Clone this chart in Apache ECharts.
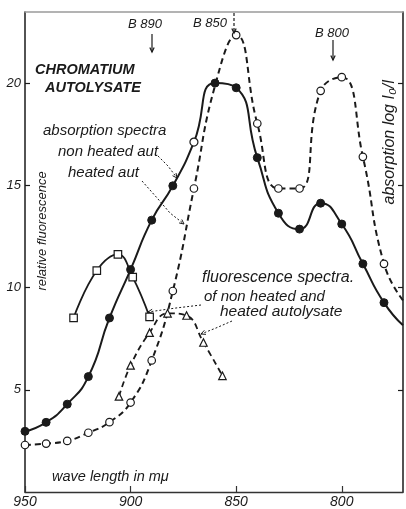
<!DOCTYPE html>
<html><head><meta charset="utf-8">
<script src="https://cdn.jsdelivr.net/npm/echarts@6/dist/echarts.min.js"></script>
<style>html,body{margin:0;padding:0;background:#fff}#c{width:406px;height:509px}</style>
</head><body><div id="c"></div>
<script>
// ---- data (wavelength in mμ) ----
const xTickValues = [950, 900, 850, 800];
const yTickValues = [5, 10, 15, 20];

// absorption spectrum, non heated autolysate (solid, filled circles)
const absNonHeatedNm  = [950, 940, 930, 920, 910, 900, 890, 880, 870, 860, 850, 840, 830, 820, 810, 800, 790, 780, 771];
const absNonHeatedVal = [2.97, 3.41, 4.30, 5.65, 8.52, 10.89, 13.31, 14.99, 17.13, 20.02, 19.79, 16.37, 13.65, 12.87, 14.14, 13.12, 11.17, 9.27, 8.16];
const absNonHeatedLineOnly = [771];
const absNonHeatedOpen = [870];

// absorption spectrum, heated autolysate (dashed, open circles)
const absHeatedNm  = [950, 940, 930, 920, 910, 900, 890, 880, 870, 860, 850, 840, 830, 820, 810, 800, 790, 780, 771];
const absHeatedVal = [2.30, 2.37, 2.50, 2.90, 3.42, 4.38, 6.44, 9.84, 14.86, 19.9, 22.37, 18.04, 14.86, 14.86, 19.64, 20.31, 16.41, 11.17, 9.38];
const absHeatedLineOnly = [860, 771];

// fluorescence spectrum, non heated autolysate (solid, open squares)
const fluNonHeatedNm  = [927, 916, 906, 899, 891];
const fluNonHeatedVal = [8.52, 10.84, 11.63, 10.52, 8.57];

// fluorescence spectrum, heated autolysate (dashed, open triangles)
const fluHeatedNm  = [905.5, 900, 891, 882.5, 873.5, 865.5, 856.5];
const fluHeatedVal = [4.68, 6.20, 7.80, 8.75, 8.64, 7.32, 5.69];

// ---- build ----
const INK = '#1a1a1a';
const FONT = '"Liberation Sans", "DejaVu Sans", sans-serif';
function build(nms, vals, lineOnly, openAt) {
  lineOnly = lineOnly || []; openAt = openAt || [];
  return nms.map((x, i) => {
    const d = { value: [x, vals[i]] };
    if (lineOnly.includes(x)) { d.symbol = 'none'; d.symbolSize = 0; }
    if (openAt.includes(x)) d.itemStyle = { color: '#fff', borderColor: INK, borderWidth: 1.2 };
    return d;
  });
}
const openItem = { color: '#fff', borderColor: INK, borderWidth: 1.2 };

const chart = echarts.init(document.getElementById('c'), null, { renderer: 'canvas' });

function txt(text, x, y, size, opts) {
  opts = opts || {};
  return {
    type: 'text', z: 50, rotation: opts.rot || 0, x: x, y: y,
    style: {
      text: text, x: 0, y: 0, fill: INK,
      fontSize: size, fontFamily: FONT, fontStyle: 'italic',
      fontWeight: opts.bold ? 'bold' : 'normal',
      align: opts.align || 'left', verticalAlign: 'middle'
    }
  };
}
function line(points, dash, w) {
  return { type: 'polyline', z: 50, shape: { points: points },
    style: { stroke: INK, lineWidth: w || 1, lineDash: dash || null, fill: null } };
}
function head(p1, p2, size, w) {
  const a = Math.atan2(p2[1] - p1[1], p2[0] - p1[0]);
  const s = size || 5;
  return { type: 'polyline', z: 50, shape: { points: [
      [p2[0] - s * Math.cos(a - 0.45), p2[1] - s * Math.sin(a - 0.45)],
      p2,
      [p2[0] - s * Math.cos(a + 0.45), p2[1] - s * Math.sin(a + 0.45)]] },
    style: { stroke: INK, lineWidth: w || 1, fill: null } };
}

const graphics = [
  txt('CHROMATIUM', 35, 70, 14.5, { bold: true }),
  txt('AUTOLYSATE', 45, 88, 14.5, { bold: true }),
  txt('absorption spectra', 43, 131, 15),
  txt('non heated aut', 58, 152, 15),
  txt('heated aut', 68, 173, 15),
  txt('B 890', 128, 24, 13),
  txt('B 850', 193, 23, 13),
  txt('B 800', 315, 33, 13),
  txt('fluorescence spectra.', 202, 278, 16),
  txt('of non heated and', 204, 297, 15),
  txt('heated autolysate', 220, 312, 15.5),
  txt('wave length in mμ', 52, 477, 14.5),
  txt('relative fluorescence', 42, 231, 13, { rot: Math.PI / 2, align: 'center' }),
  txt('absorption log I₀/I', 390, 142, 16, { rot: Math.PI / 2, align: 'center' }),
  // B arrows
  line([[152, 34], [152, 52]], null, 1.2), head([152, 34], [152, 52], 5, 1.2),
  line([[234, 13], [234, 33]], [3, 2], 1.2), head([234, 13], [234, 33], 5, 1.2),
  line([[333, 40], [333, 60]], null, 1.2), head([333, 40], [333, 60], 5, 1.2),
  // dotted pointer arrows
  line([[158, 156], [168, 166], [177, 178]], [2, 2]), head([168, 166], [177, 178], 5),
  line([[142, 181], [158, 199], [170, 213], [184, 224]], [2, 2]), head([170, 213], [184, 224], 5),
  line([[201, 305], [176, 308], [148, 312]], [2, 2]), head([176, 308], [148, 312], 5),
  line([[232, 321], [216, 328], [201, 334]], [2, 2]), head([216, 328], [201, 334], 5)
];

const option = {
  animation: false,
  backgroundColor: '#fff',
  grid: { left: 25, right: 3, top: 12, bottom: 15, containLabel: false },
  xAxis: [{
    type: 'value', inverse: true, min: 771, max: 950, position: 'bottom',
    axisLine: { onZero: false, lineStyle: { color: '#333', width: 1.3 } },
    axisTick: { inside: true, length: 6, customValues: xTickValues, lineStyle: { color: '#333', width: 1.2 } },
    axisLabel: { customValues: xTickValues, margin: 3, color: INK, fontSize: 14, fontStyle: 'italic', fontFamily: FONT },
    splitLine: { show: false }
  }, {
    type: 'value', inverse: true, min: 771, max: 950, position: 'top',
    axisLine: { onZero: false, lineStyle: { color: '#9a9a9a', width: 1.5 } },
    axisTick: { show: false }, axisLabel: { show: false }, splitLine: { show: false }
  }],
  yAxis: [{
    type: 'value', min: 0, max: 23.5, position: 'left',
    axisLine: { show: true, onZero: false, lineStyle: { color: INK, width: 1.5 } },
    axisTick: { show: true, inside: true, length: 5, customValues: yTickValues, lineStyle: { color: INK, width: 1.2 } },
    axisLabel: { customValues: yTickValues, margin: 4, color: INK, fontSize: 13, fontStyle: 'italic', fontFamily: FONT },
    splitLine: { show: false }
  }, {
    type: 'value', min: 0, max: 23.5, position: 'right',
    axisLine: { show: true, onZero: false, lineStyle: { color: INK, width: 1.5 } },
    axisTick: { show: true, inside: true, length: 5, customValues: yTickValues, lineStyle: { color: INK, width: 1.2 } },
    axisLabel: { show: false }, splitLine: { show: false }
  }],
  series: [
    { name: 'absorption heated', type: 'line', z: 2, smooth: 0.5,
      data: build(absHeatedNm, absHeatedVal, absHeatedLineOnly),
      symbol: 'circle', symbolSize: 7.5, itemStyle: openItem,
      lineStyle: { color: INK, width: 2, type: [6, 4] } },
    { name: 'fluorescence heated', type: 'line', z: 3, smooth: 0.45,
      data: build(fluHeatedNm, fluHeatedVal),
      symbol: 'triangle', symbolSize: 7.5, itemStyle: openItem,
      lineStyle: { color: INK, width: 1.8, type: [6, 4] } },
    { name: 'fluorescence non heated', type: 'line', z: 3, smooth: 0.45,
      data: build(fluNonHeatedNm, fluNonHeatedVal),
      symbol: 'rect', symbolSize: 7.5, itemStyle: openItem,
      lineStyle: { color: INK, width: 1.8 } },
    { name: 'absorption non heated', type: 'line', z: 4, smooth: 0.55,
      data: build(absNonHeatedNm, absNonHeatedVal, absNonHeatedLineOnly, absNonHeatedOpen),
      symbol: 'circle', symbolSize: 8, itemStyle: { color: INK, borderColor: INK, borderWidth: 1 },
      lineStyle: { color: INK, width: 2 } }
  ],
  graphic: graphics
};
chart.setOption(option);
</script>
</body></html>
